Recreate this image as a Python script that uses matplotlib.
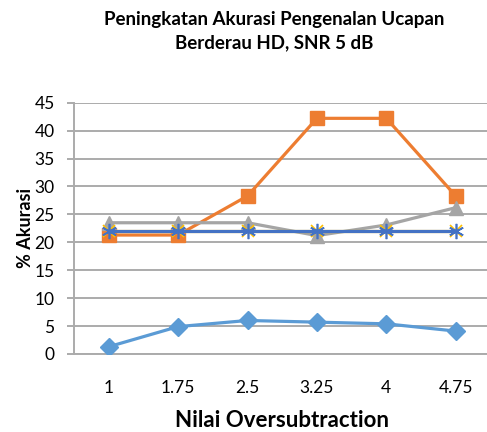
import numpy as np
import matplotlib
matplotlib.use("Agg")
import matplotlib.pyplot as plt

plt.rcParams['font.family'] = ['Lato', 'DejaVu Sans']

# data
x_labels = ['1', '1.75', '2.5', '3.25', '4', '4.75']
seri_1 = [1.3, 4.9, 6.0, 5.7, 5.4, 4.1]
seri_2 = [21.3, 21.3, 28.3, 42.2, 42.2, 28.3]
seri_3 = [23.5, 23.5, 23.5, 21.2, 23.1, 26.2]
seri_4 = [22.0, 22.0, 22.0, 22.0, 22.0, 22.0]
seri_5 = [22.0, 22.0, 22.0, 22.0, 22.0, 22.0]

fig = plt.figure(figsize=(4.87, 4.32), dpi=100)
ax = fig.add_axes([0.152, 0.1806, 0.855, 0.5817])

pos = np.arange(len(x_labels))
lw = 2.3
ax.plot(pos, seri_1, color='#5B9BD5', lw=lw, marker='D', ms=9.5, zorder=3)
ax.plot(pos, seri_2, color='#ED7D31', lw=lw, marker='s', ms=10, zorder=3)
ax.plot(pos, seri_3, color='#A5A5A5', lw=lw, marker='^', ms=10, zorder=3)
ax.plot(pos, seri_4, color='#FFC000', lw=lw, marker='x', ms=9, mew=1.2, zorder=3)
ax.plot(pos, seri_5, color='#4472C4', lw=lw, marker=(6, 2, 0), ms=11, mew=1.2, zorder=4)

ax.set_xlim(-0.5, len(x_labels) - 0.5)
ax.set_ylim(0, 45)
ax.set_yticks(np.arange(0, 46, 5))
ax.set_xticks(pos)
ax.set_xticklabels(x_labels)

ax.grid(axis='y', color='#ABABAB', lw=1.4, zorder=0)
for s in ['top', 'right']:
    ax.spines[s].set_visible(False)
for s in ['left', 'bottom']:
    ax.spines[s].set_color('#ABABAB')
    ax.spines[s].set_linewidth(1.4)
ax.tick_params(axis='y', length=5, width=1.4, color='#ABABAB', pad=9, labelsize=12.5)
ax.tick_params(axis='x', length=0, pad=19, labelsize=12.5)

ax.set_ylabel('% Akurasi', fontsize=13, fontweight='bold', labelpad=0)
ax.set_xlabel('Nilai Oversubtraction', fontsize=16, fontweight='bold', labelpad=10)

fig.text(0.562, 0.975, 'Peningkatan Akurasi Pengenalan Ucapan\nBerderau HD, SNR 5 dB',
         ha='center', va='top', fontsize=13.5, fontweight='bold', linespacing=1.45)

fig.savefig('out.png', dpi=100)
